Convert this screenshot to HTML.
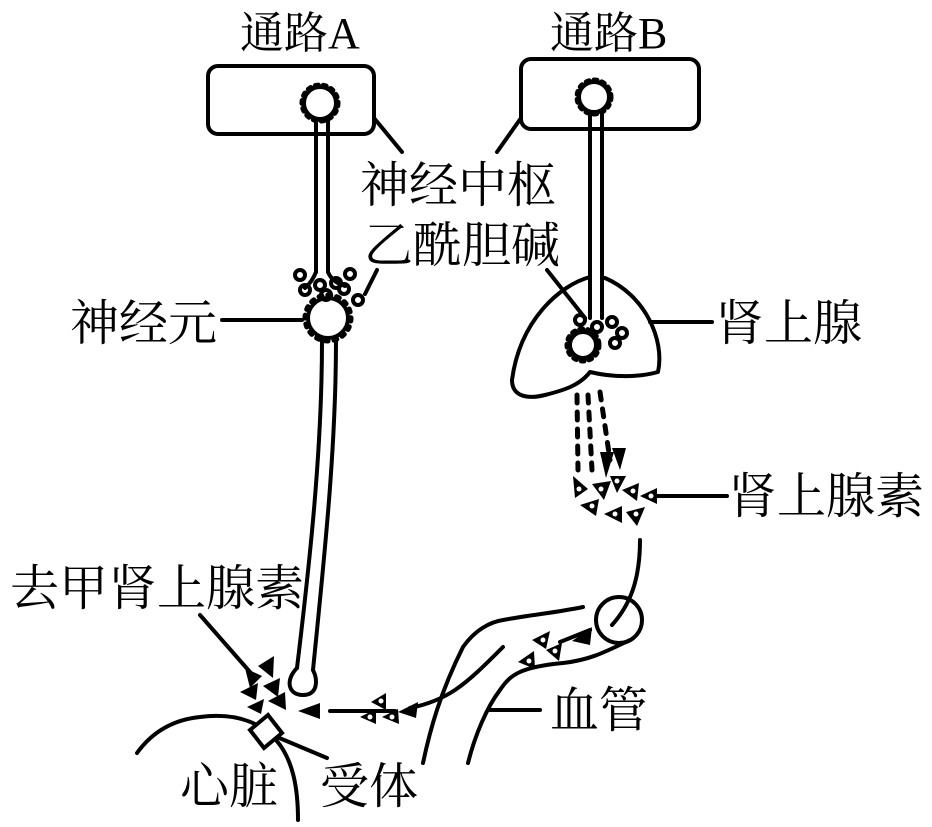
<!DOCTYPE html>
<html><head><meta charset="utf-8"><style>
html,body{margin:0;padding:0;background:#fff;}
svg{display:block;}
text{font-family:"Liberation Serif","Noto Serif CJK SC",serif;fill:#000;}
</style></head><body>
<svg width="932" height="827" viewBox="0 0 932 827" xmlns="http://www.w3.org/2000/svg">
<g fill="none" stroke="#000" stroke-width="4" stroke-linecap="round" stroke-linejoin="round">
<rect x="208" y="66" width="166" height="68" rx="10"/>
<rect x="521" y="59" width="178" height="70" rx="10"/>
<line x1="374" y1="118" x2="402" y2="152"/>
<line x1="521" y1="118" x2="497" y2="152"/>
<line x1="377" y1="270" x2="365" y2="294"/>
<line x1="547" y1="270" x2="585" y2="318"/>
<line x1="222" y1="320" x2="302" y2="320"/>
<line x1="650" y1="322" x2="712" y2="322"/>
<line x1="645" y1="496" x2="727" y2="496"/>
<line x1="490" y1="710" x2="540" y2="710"/>
<line x1="277" y1="737" x2="327" y2="758"/>
<line x1="200" y1="615" x2="250" y2="672"/>
<!-- neuron A -->
<circle cx="320" cy="103" r="16"/>
<circle cx="320" cy="103" r="18" stroke-dasharray="3 5" stroke-width="5"/>
<line x1="316" y1="120" x2="316" y2="272"/><line x1="328" y1="120" x2="328" y2="272"/>
<path d="M316,272 Q312,282 305,288 M328,272 Q332,282 345,286"/>
<circle cx="328" cy="318" r="20"/>
<circle cx="328" cy="318" r="23" stroke-dasharray="3 6" stroke-width="5"/>
<path d="M322,340 C322,450 310,560 297,668 M336,340 C336,450 324,560 313,670"/>
<path d="M297,668 C285,680 288,695 303,695 C318,695 318,680 313,670"/>
<circle cx="305" cy="290" r="5"/><circle cx="320" cy="285" r="5"/><circle cx="336" cy="283" r="5"/><circle cx="350" cy="274" r="5"/><circle cx="300" cy="275" r="5"/><circle cx="326" cy="295" r="5"/><circle cx="344" cy="289" r="5"/><circle cx="358" cy="300" r="5"/>
<!-- neuron B -->
<circle cx="594" cy="97" r="15"/>
<circle cx="594" cy="97" r="17" stroke-dasharray="3 5" stroke-width="5"/>
<line x1="590" y1="113" x2="590" y2="318"/><line x1="602" y1="113" x2="602" y2="318"/>
<circle cx="583" cy="345" r="13"/>
<circle cx="583" cy="345" r="16" stroke-dasharray="3 5" stroke-width="5"/>
<circle cx="580" cy="320" r="5"/><circle cx="597" cy="327" r="5"/><circle cx="612" cy="322" r="5"/><circle cx="622" cy="333" r="5"/><circle cx="615" cy="343" r="5"/>
<path d="M590,277 C560,285 520,320 512,380 C512,395 525,400 545,395 C565,390 580,385 590,372 C615,378 640,377 658,372 C665,340 645,295 605,278"/>
<path d="M577,395 L578,470 M588,395 L592,470 M600,392 L610,460" stroke-dasharray="8 9" stroke-width="5"/>
<path d="M640,540 C640,580 630,605 612,625"/>
<circle cx="619" cy="620" r="23"/>
<path d="M423,763 C430,730 440,693 463,647 C475,630 490,622 503,620 C530,615 560,612 583,607"/>
<path d="M468,763 C475,735 487,707 500,690 C510,675 520,667 563,663 C590,660 605,652 630,640"/>
<path d="M503,647 C485,665 470,680 455,690 C440,700 425,705 410,708"/>
<line x1="560" y1="642" x2="590" y2="630"/>
<line x1="395" y1="711" x2="330" y2="711"/>
<path d="M137,753 C150,735 170,720 200,717 C240,712 265,725 280,745 C292,762 298,785 298,820"/>
</g>
<g fill="#000">
<polygon points="398,712 418,702 416,718"/>
<polygon points="298,711 320,703 320,719"/>
<polygon points="572,641 592,627 590,645"/>
<polygon points="245,668 262,676 250,688"/>
<polygon points="258,666 274,656 273,678"/><polygon points="240,692 258,683 256,700"/>
<polygon points="263,686 280,678 278,697"/><polygon points="268,701 285,692 286,710"/>
<polygon points="247,707 264,699 261,714"/>
<polygon points="573,476 588,489 575,498"/><polygon points="592,484 611,481 604,500"/>
<polygon points="610,476 626,476 617,493"/><polygon points="580,505 599,499 596,516"/>
<polygon points="604,514 622,506 622,523"/><polygon points="626,512 645,507 637,526"/>
<polygon points="622,490 639,483 637,501"/><polygon points="640,496 657,488 657,504"/>
<polygon points="600,452 606,478 614,452"/><polygon points="612,448 620,470 626,448"/>
<polygon points="532,640 550,631 546,649"/><polygon points="546,650 562,643 559,661"/>
<polygon points="518,662 534,651 535,669"/>
<polygon points="371,702 386,693 386,710"/><polygon points="360,717 376,709 376,724"/><polygon points="382,717 398,709 399,724"/>
</g>
<g fill="#fff">
<circle cx="579" cy="489" r="2.5"/><circle cx="601" cy="489" r="2.5"/><circle cx="617" cy="481" r="2.5"/><circle cx="592" cy="506" r="2.5"/><circle cx="615" cy="514" r="2.5"/><circle cx="636" cy="514" r="2.5"/><circle cx="633" cy="491" r="2.5"/><circle cx="651" cy="496" r="2.5"/>
<circle cx="543" cy="640" r="2.5"/><circle cx="555" cy="651" r="2.5"/><circle cx="529" cy="661" r="2.5"/>
<circle cx="381" cy="701" r="2.5"/><circle cx="370" cy="717" r="2.5"/><circle cx="392" cy="717" r="2.5"/>
</g>
<path d="M250,730 L268,715 L282,733 L264,748 Z" fill="#fff" stroke="#000" stroke-width="4"/>
<text x="240" y="48" font-size="44">通路A</text>
<text x="550" y="48" font-size="44">通路B</text>
<text x="360" y="202" font-size="49">神经中枢</text>
<text x="364" y="262" font-size="49">乙酰胆碱</text>
<text x="70" y="340" font-size="49">神经元</text>
<text x="715" y="340" font-size="49">肾上腺</text>
<text x="728" y="513" font-size="49">肾上腺素</text>
<text x="10" y="605" font-size="49">去甲肾上腺素</text>
<text x="550" y="727" font-size="49">血管</text>
<text x="180" y="803" font-size="49">心脏</text>
<text x="320" y="803" font-size="49">受体</text>
</svg>
</body></html>
